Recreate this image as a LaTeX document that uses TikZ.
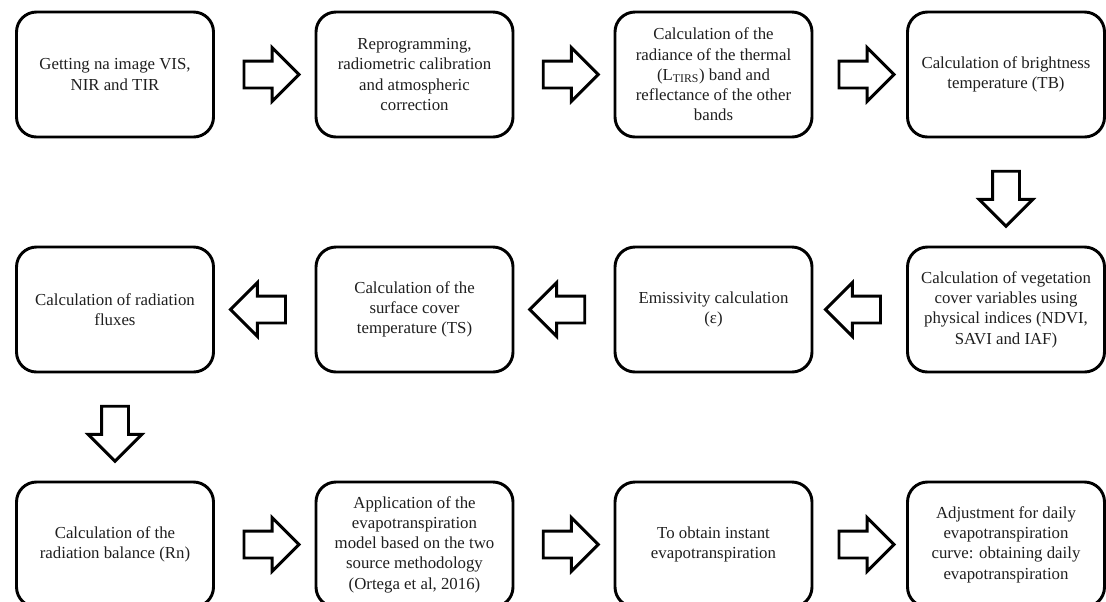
\documentclass[tikz,border=0pt]{standalone}
\usepackage{fontspec}
\setmainfont{Liberation Serif}
\usepackage{xcolor}
\usepackage{tikz}
\usetikzlibrary{shapes.arrows}

\begin{document}
\begin{tikzpicture}[
    x=0.75pt, y=-0.75pt,
    stepbox/.style={rectangle, draw, line width=2.2pt, rounded corners=15pt, minimum width=147.75pt, minimum height=93.75pt, fill=white, align=center, text=black!88, font=\fontsize{12.6}{15.2}\selectfont},
    flow/.style={single arrow, draw, line width=2.2pt, fill=white, line join=miter, inner sep=9pt, minimum height=41.25pt, single arrow head extend=10pt, sloped, allow upside down}
]
\useasboundingbox (0,0) rectangle (1106,601);

% First row
\node[stepbox] (getimg) at (115,74.5) {Getting na image VIS,\\ NIR and TIR};
\node[stepbox] (reprog) at (414.5,74.5) {Reprogramming,\\ radiometric calibration\\ and atmospheric\\ correction};
\node[stepbox] (radiance) at (713.5,74.5) {Calculation of the\\ radiance of the thermal\\ (L\textsubscript{TIRS}) band and\\ reflectance of the other\\ bands};
\node[stepbox] (bright) at (1006,74.5) {Calculation of brightness\\ temperature (TB)};

% Second row
\node[stepbox] (veget) at (1006,309.5) {Calculation of vegetation\\ cover variables using\\ physical indices (NDVI,\\ SAVI and IAF)};
\node[stepbox] (emiss) at (713.5,309.5) {Emissivity calculation\\ (ε)};
\node[stepbox] (surftemp) at (414.5,309.5) {Calculation of the\\ surface cover\\ temperature (TS)};
\node[stepbox] (fluxes) at (115,309.5) {Calculation of radiation\\ fluxes};

% Third row
\node[stepbox] (balance) at (115,544.5) {Calculation of the\\ radiation balance (Rn)};
\node[stepbox] (model) at (414.5,544.5) {Application of the\\ evapotranspiration\\ model based on the two\\ source methodology\\ (Ortega et al, 2016)};
\node[stepbox] (instant) at (713.5,544.5) {To obtain instant\\ evapotranspiration};
\node[stepbox] (daily) at (1006,544.5) {Adjustment for daily\\ evapotranspiration\\ curve: obtaining daily\\ evapotranspiration};

% Arrows
\path (getimg) -- node[flow] {} (reprog);
\path (reprog) -- node[flow] {} (radiance);
\path (radiance) -- node[flow] {} (bright);
\path (bright) -- node[flow] {} (veget);
\path (veget) -- node[flow] {} (emiss);
\path (emiss) -- node[flow] {} (surftemp);
\path (surftemp) -- node[flow] {} (fluxes);
\path (fluxes) -- node[flow] {} (balance);
\path (balance) -- node[flow] {} (model);
\path (model) -- node[flow] {} (instant);
\path (instant) -- node[flow] {} (daily);

\end{tikzpicture}
\end{document}
